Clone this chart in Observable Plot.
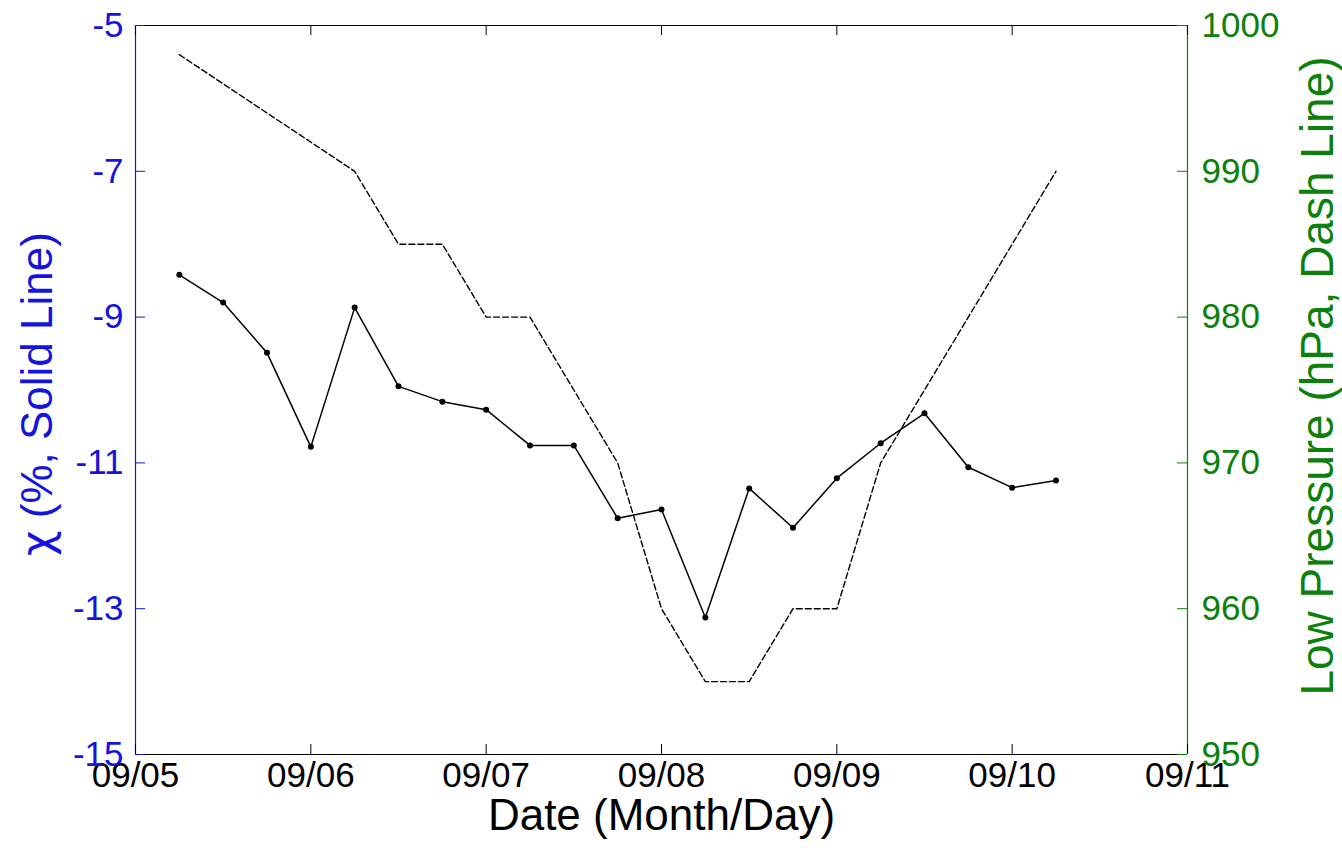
<!DOCTYPE html>
<html><head><meta charset="utf-8">
<script src="https://cdn.jsdelivr.net/npm/d3@7"></script>
<script src="https://cdn.jsdelivr.net/npm/@observablehq/plot@0.6"></script>
<style>body{margin:0;background:#fff} #chart svg{display:block}</style>
</head><body><div id="chart"></div>
<script>
// Date tick labels (day index 0..6 from 09/05)
const dayLabels = ["09/05", "09/06", "09/07", "09/08", "09/09", "09/10", "09/11"];
// Observation times, hours after 09/05 00:00
const hours = [6, 12, 18, 24, 30, 36, 42, 48, 54, 60, 66, 72, 78, 84, 90, 96, 102, 108, 114, 120, 126];
// chi (%), solid line
const chi = [-8.42, -8.80, -9.49, -10.78, -8.87, -9.95, -10.16, -10.27, -10.76, -10.76, -11.76,
             -11.64, -13.12, -11.35, -11.89, -11.21, -10.73, -10.32, -11.06, -11.34, -11.24];
// Low pressure (hPa), dashed line
const pressure = [998, 996, 994, 992, 990, 985, 985, 980, 980, 975, 970,
                  960, 955, 955, 960, 960, 970, 975, 980, 985, 990];
const chiTicks = [-15, -13, -11, -9, -7, -5];
const pressureTicks = [950, 960, 970, 980, 990, 1000];

const BLUE = "#1414dc";
const GREEN = "#0b800b";
const W = 1342, H = 853, ML = 135, MR = 155, MT = 25, MB = 99;
const PW = W - ML - MR, PH = H - MT - MB;
const TICK = 10;

// map pressure onto the left (chi) scale: 950 -> -15, 1000 -> -5
const pToY = p => -15 + (p - 950) / 5;
const yToP = y => Math.round(950 + (y + 15) * 5);

const rows = hours.map((h, i) => ({t: h / 24, chi: chi[i], p: pressure[i]}));
const days = dayLabels.map((_, i) => i);

const chart = Plot.plot({
  width: W, height: H,
  marginLeft: ML, marginRight: MR, marginTop: MT, marginBottom: MB,
  style: {fontFamily: "Arial, 'Liberation Sans', sans-serif", background: "white", overflow: "visible"},
  x: {domain: [0, 6]},
  y: {domain: [-15, -5]},
  marks: [
    // frame edges
    Plot.ruleY([-5], {stroke: "black", strokeWidth: 1.2}),
    Plot.ruleY([-15], {stroke: "black", strokeWidth: 1.2}),
    Plot.ruleX([0], {stroke: BLUE, strokeWidth: 1.2}),
    Plot.ruleX([6], {stroke: GREEN, strokeWidth: 1.2}),
    // inward ticks
    Plot.tickX(days, {x: d => d, insetBottom: PH - TICK, stroke: "black"}),
    Plot.tickX(days, {x: d => d, insetTop: PH - TICK, stroke: "black"}),
    Plot.tickY(chiTicks, {y: d => d, insetRight: PW - TICK, stroke: BLUE}),
    Plot.tickY(pressureTicks, {y: pToY, insetLeft: PW - TICK, stroke: GREEN}),
    // axes labels
    Plot.axisX(days, {anchor: "bottom", tickSize: 0, tickPadding: 8, fontSize: 35,
      tickFormat: d => dayLabels[d], label: null, color: "black"}),
    Plot.axisY(chiTicks, {anchor: "left", tickSize: 0, tickPadding: 12, fontSize: 35,
      tickFormat: d => String(d), label: null, color: BLUE}),
    Plot.axisY(pressureTicks.map(pToY), {anchor: "right", tickSize: 0, tickPadding: 14, fontSize: 35,
      tickFormat: d => String(yToP(d)), label: null, color: GREEN}),
    // data
    Plot.line(rows, {x: "t", y: d => pToY(d.p), stroke: "black", strokeWidth: 1.4, strokeDasharray: "6,3"}),
    Plot.line(rows, {x: "t", y: "chi", stroke: "black", strokeWidth: 1.5}),
    Plot.dot(rows, {x: "t", y: "chi", r: 3, fill: "black", stroke: "none"}),
    // axis titles
    Plot.text(["χ (%, Solid Line)"], {frameAnchor: "left", dx: -98, dy: 4, rotate: -90, fontSize: 44,
      fill: BLUE, textAnchor: "middle", lineAnchor: "middle", className: "chi-title"}),
    Plot.text(["Low Pressure (hPa, Dash Line)"], {frameAnchor: "right", dx: 131, dy: -14, rotate: -90, fontSize: 46,
      fill: GREEN, textAnchor: "middle", lineAnchor: "middle"}),
    Plot.text(["Date (Month/Day)"], {frameAnchor: "bottom", dy: 61, fontSize: 44, fill: "black",
      textAnchor: "middle", lineAnchor: "middle"})
  ]
});
// render the Greek chi in a font with a lowercase-style chi glyph
d3.select(chart).selectAll("g.chi-title text").each(function() {
  const t = d3.select(this);
  const rest = t.text().slice(1);
  t.text(null);
  t.append("tspan").attr("font-family", "'DejaVu Sans', sans-serif").text("χ");
  t.append("tspan").text(rest);
});
document.getElementById("chart").appendChild(chart);
</script>
</body></html>
